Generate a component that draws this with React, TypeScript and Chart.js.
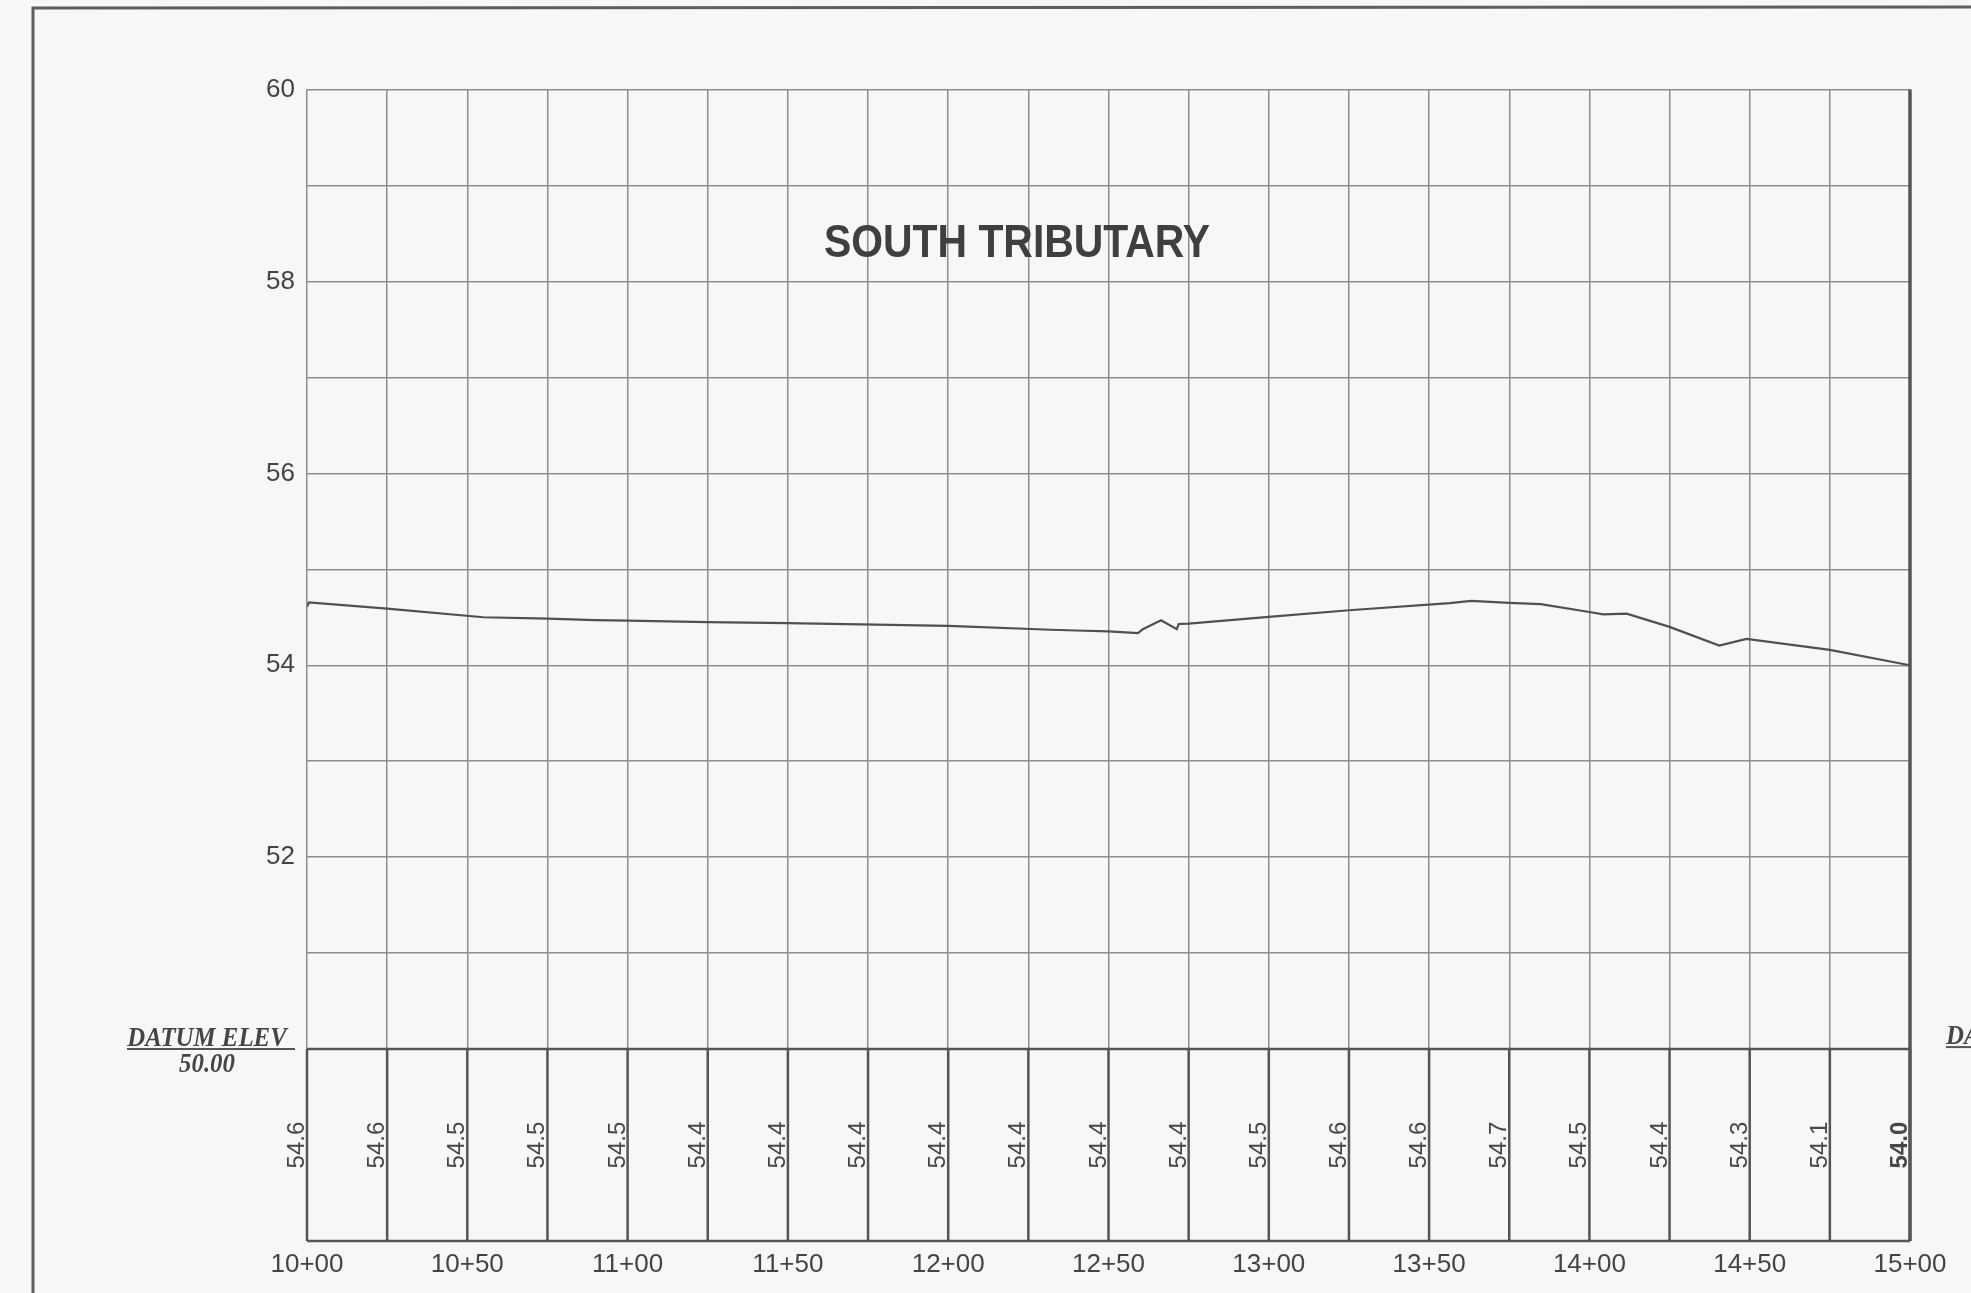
import React, { useEffect, useRef } from 'react';
import { Chart, registerables } from 'chart.js';

Chart.register(...registerables);

// Profile: station (ft, 1000 = 10+00) and water-surface elevation
const stations = [1000, 1000.6, 1025, 1055, 1075, 1090, 1100, 1125, 1150, 1200, 1232, 1240, 1250, 1259.2, 1260.7, 1266.4, 1271.3, 1271.9, 1275, 1300, 1325, 1356.4, 1363.2, 1375, 1384.8, 1400, 1404.3, 1411.6, 1425, 1440.5, 1449, 1475, 1500];
const elevations = [54.61, 54.655, 54.59, 54.5, 54.485, 54.47, 54.466, 54.45, 54.44, 54.41, 54.37, 54.362, 54.352, 54.334, 54.376, 54.468, 54.376, 54.43, 54.434, 54.504, 54.573, 54.647, 54.671, 54.65, 54.637, 54.555, 54.531, 54.538, 54.4, 54.206, 54.274, 54.16, 54.0];

// Table of elevations printed under the profile
const tableStations = [1000, 1025, 1050, 1075, 1100, 1125, 1150, 1175, 1200, 1225, 1250, 1275, 1300, 1325, 1350, 1375, 1400, 1425, 1450, 1475, 1500];
const tableValues = ['54.6', '54.6', '54.5', '54.5', '54.5', '54.4', '54.4', '54.4', '54.4', '54.4', '54.4', '54.4', '54.5', '54.6', '54.6', '54.7', '54.5', '54.4', '54.3', '54.1', '54.0'];

const yTickLabels = [52, 54, 56, 58, 60];
const stationLabelStep = 50;
const titleText = 'SOUTH TRIBUTARY';
const datumLabel = 'DATUM ELEV';
const datumValue = '50.00';
const datumElevation = 50;
const tableBottom = 48;

const fmtStation = (v: number) => {
  const h = Math.floor(v / 100);
  const r = Math.round(v - h * 100);
  return `${h}+${r < 10 ? '0' + r : r}`;
};

const BG = '#f7f7f7';
const GRID = '#8d8d8d';
const DARK = '#555555';

const decorPlugin = {
  id: 'decor',
  beforeDraw(chart: any) {
    const ctx = chart.ctx;
    ctx.save();
    ctx.fillStyle = BG;
    ctx.fillRect(0, 0, chart.width, chart.height);
    // outer sheet frame
    ctx.strokeStyle = '#5e5e5e';
    ctx.lineWidth = 3;
    ctx.beginPath();
    ctx.moveTo(33, chart.height);
    ctx.lineTo(33, 8);
    ctx.lineTo(chart.width, 7);
    ctx.stroke();
    ctx.restore();
  },
  afterDraw(chart: any) {
    const ctx = chart.ctx;
    const xs = chart.scales.x;
    const ys = chart.scales.y;
    const yTop = ys.getPixelForValue(datumElevation);
    const yBot = ys.getPixelForValue(tableBottom);
    const xL = xs.getPixelForValue(tableStations[0]);
    const xR = xs.getPixelForValue(tableStations[tableStations.length - 1]);
    ctx.save();
    // clear table region
    ctx.fillStyle = BG;
    ctx.fillRect(xL - 1, yTop + 1, xR - xL + 2, yBot - yTop - 1);
    ctx.strokeStyle = DARK;
    ctx.lineWidth = 2.5;
    ctx.beginPath();
    ctx.moveTo(xL, yTop);
    ctx.lineTo(xR, yTop);
    ctx.moveTo(xL, yBot);
    ctx.lineTo(xR, yBot);
    tableStations.forEach((s) => {
      const x = xs.getPixelForValue(s);
      ctx.moveTo(x, yTop);
      ctx.lineTo(x, yBot);
    });
    ctx.stroke();
    // heavy right edge
    ctx.lineWidth = 3.5;
    ctx.beginPath();
    ctx.moveTo(xR, ys.getPixelForValue(ys.max));
    ctx.lineTo(xR, yBot);
    ctx.stroke();

    // table labels
    const yc = (yTop + yBot) / 2;
    ctx.fillStyle = '#474747';
    ctx.textAlign = 'center';
    ctx.textBaseline = 'alphabetic';
    tableStations.forEach((s, i) => {
      const x = xs.getPixelForValue(s);
      ctx.save();
      ctx.translate(x - 3, yc);
      ctx.rotate(-Math.PI / 2);
      ctx.font = (i === tableStations.length - 1 ? 'bold ' : '') + '24px "Liberation Sans", Arial, sans-serif';
      ctx.fillText(tableValues[i], 0, 0);
      ctx.restore();
    });

    // title
    ctx.save();
    ctx.fillStyle = '#3f3f3f';
    ctx.font = 'bold 47px "Liberation Sans", Arial, sans-serif';
    ctx.translate(1017, 257);
    ctx.scale(0.87, 1);
    ctx.textAlign = 'center';
    ctx.fillText(titleText, 0, 0);
    ctx.restore();

    // datum labels
    ctx.fillStyle = '#454545';
    ctx.font = 'italic bold 27px "Liberation Serif", "Times New Roman", serif';
    ctx.textAlign = 'center';
    ctx.save();
    ctx.translate(207, 1046);
    ctx.scale(0.92, 1);
    ctx.fillText(datumLabel, 0, 0);
    ctx.fillText(datumValue, 0, 26);
    ctx.restore();
    ctx.strokeStyle = DARK;
    ctx.lineWidth = 2;
    ctx.beginPath();
    ctx.moveTo(127, yTop);
    ctx.lineTo(295, yTop);
    ctx.stroke();
    ctx.textAlign = 'left';
    ctx.save();
    ctx.translate(1946, 1044);
    ctx.scale(0.92, 1);
    ctx.fillText(datumLabel, 0, 0);
    ctx.restore();
    ctx.beginPath();
    ctx.moveTo(1946, yTop - 2);
    ctx.lineTo(chart.width, yTop - 2);
    ctx.stroke();
    ctx.restore();
  },
};

export default function App() {
  const ref = useRef<HTMLCanvasElement | null>(null);
  useEffect(() => {
    if (!ref.current) return;
    const chart = new Chart(ref.current, {
      type: 'line',
      data: {
        datasets: [
          {
            data: stations.map((s, i) => ({ x: s, y: elevations[i] })),
            borderColor: '#505050',
            borderWidth: 2.2,
            pointRadius: 0,
            tension: 0,
            fill: false,
          },
        ],
      },
      options: {
        responsive: false,
        animation: false,
        devicePixelRatio: 1,
        layout: { padding: { top: 89.5, left: 0, right: 61, bottom: 0 } },
        plugins: { legend: { display: false }, tooltip: { enabled: false }, title: { display: false } },
        scales: {
          x: {
            type: 'linear',
            min: 1000,
            max: 1500,
            border: { display: false },
            grid: { color: GRID, lineWidth: 1.5, drawTicks: false },
            ticks: {
              stepSize: 25,
              autoSkip: false,
              maxRotation: 0,
              padding: 8,
              color: '#444',
              font: { family: '"Liberation Sans", Arial, sans-serif', size: 26 },
              callback: (v: any) => (Number(v) % stationLabelStep === 0 ? fmtStation(Number(v)) : ''),
            },
            afterFit: (scale: any) => {
              scale.height = 52;
            },
          },
          y: {
            type: 'linear',
            min: tableBottom,
            max: 60,
            border: { display: false },
            grid: {
              drawTicks: false,
              lineWidth: 1.5,
              color: (c: any) => (c.tick && c.tick.value < datumElevation ? 'rgba(0,0,0,0)' : GRID),
            },
            ticks: {
              stepSize: 1,
              autoSkip: false,
              padding: 12,
              color: '#444',
              font: { family: '"Liberation Sans", Arial, sans-serif', size: 26 },
              callback: (v: any) => (yTickLabels.includes(Number(v)) ? String(v) : ''),
            },
            afterFit: (scale: any) => {
              scale.width = 307;
            },
          },
        },
      },
      plugins: [decorPlugin],
    });
    return () => chart.destroy();
  }, []);
  return (
    <div style={{ position: 'fixed', left: 0, top: 0, width: 1971, height: 1293 }}>
      <canvas ref={ref} width={1971} height={1293} style={{ width: 1971, height: 1293, display: 'block' }} />
    </div>
  );
}
